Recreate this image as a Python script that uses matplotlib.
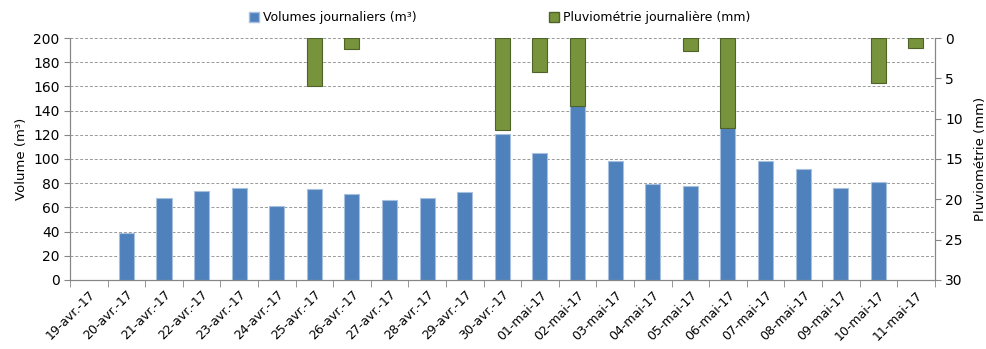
import numpy as np
import matplotlib.pyplot as plt
from matplotlib.patches import Patch

dates = ["19-avr.-17", "20-avr.-17", "21-avr.-17", "22-avr.-17", "23-avr.-17",
         "24-avr.-17", "25-avr.-17", "26-avr.-17", "27-avr.-17", "28-avr.-17",
         "29-avr.-17", "30-avr.-17", "01-mai-17", "02-mai-17", "03-mai-17",
         "04-mai-17", "05-mai-17", "06-mai-17", "07-mai-17", "08-mai-17",
         "09-mai-17", "10-mai-17", "11-mai-17"]
volumes = [0, 39, 68, 73.5, 76, 61, 75, 71, 66, 68, 72.5, 120.5, 105, 144.5, 98,
           79, 78, 126, 98.5, 91.5, 76, 81, 0]
pluie = [0, 0, 0, 0, 0, 0, 6.0, 1.3, 0, 0, 0, 11.4, 4.2, 8.4, 0,
         0, 1.6, 11.2, 0, 0, 0, 5.6, 1.2]

blue = "#4F81BD"
green = "#77933C"
grey = "#868686"

plt.rcParams['font.family'] = ['DejaVu Sans']

fig = plt.figure(figsize=(9.86, 3.49), dpi=100)
ax = fig.add_axes([0.071, 0.198, 0.877, 0.693])
x = np.arange(len(dates))
vol = np.array(volumes, dtype=float)
pl = np.array(pluie, dtype=float)

# jours sans valeur : pas de barre
mv = vol > 0
ax.bar(x[mv], vol[mv], width=0.4, color=blue, edgecolor="#A7C0DE", linewidth=0.8, zorder=2)
ax.set_ylim(0, 200)
ax.set_yticks(np.arange(0, 201, 20))
ax.set_xlim(-0.5, len(dates) - 0.5)
ax.yaxis.grid(True, linestyle=(0, (3, 2)), color="#999999", linewidth=0.7)
ax.set_axisbelow(True)
ax.set_ylabel("Volume (m³)", fontsize=9.5)

ax.set_xticks(x)
ax.set_xticklabels(dates, rotation=45, ha="right", rotation_mode="anchor", fontsize=9)
ax.set_xticks(np.arange(-0.5, len(dates)), minor=True)
ax.tick_params(axis="x", which="major", length=0, pad=6)
ax.tick_params(axis="x", which="minor", length=5, color=grey)
ax.tick_params(axis="y", length=4, color=grey, labelsize=10)

ax2 = ax.twinx()
mp = pl > 0
ax2.bar(x[mp], pl[mp], width=0.4, color=green, edgecolor="#4F6228", linewidth=0.8, zorder=3)
ax2.set_ylim(30, 0)
ax2.set_yticks(np.arange(0, 31, 5))
ax2.tick_params(axis="y", length=4, color=grey, labelsize=10)
ax2.set_ylabel("Pluviométrie (mm)", fontsize=9.5, labelpad=8)

for a in (ax, ax2):
    a.spines["top"].set_visible(False)
    for s in ("left", "right", "bottom"):
        a.spines[s].set_color(grey)

handles = [Patch(facecolor=blue, edgecolor="#A7C0DE"),
           Patch(facecolor=green, edgecolor="#4F6228")]
fig.legend(handles, ["Volumes journaliers (m³)", "Pluviométrie journalière (mm)"],
           loc="upper center", bbox_to_anchor=(0.507, 1.0), ncol=2, frameon=False,
           fontsize=9, handlelength=0.8, handleheight=0.8, handletextpad=0.3,
           columnspacing=10.6)

fig.savefig("out.png", dpi=100)
